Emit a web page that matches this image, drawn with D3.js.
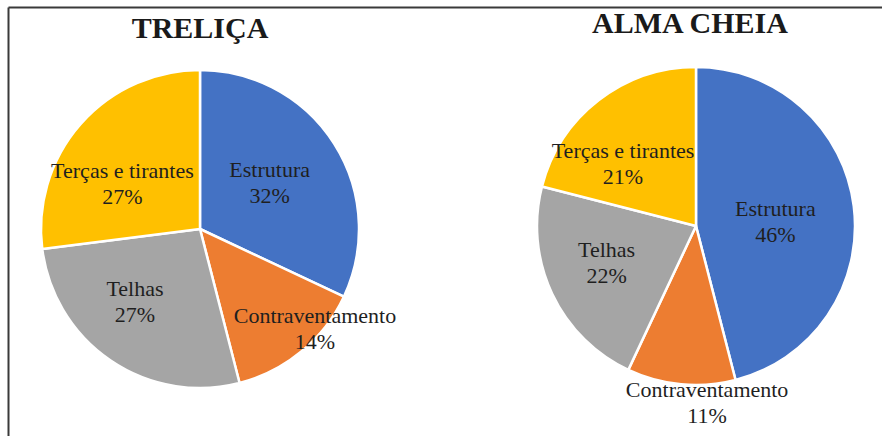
<!DOCTYPE html>
<html>
<head>
<meta charset="utf-8">
<script src="https://cdn.jsdelivr.net/npm/d3@7"></script>
<style>
  html, body { margin: 0; padding: 0; background: #fff; }
  svg { display: block; }
</style>
</head>
<body>
<svg id="chart" width="882" height="436"></svg>
<script>
// ---- data ----
const categories = ["Estrutura", "Contraventamento", "Telhas", "Terças e tirantes"];
const trelicaValues = [32, 14, 27, 27];
const almaCheiaValues = [46, 11, 22, 21];
const chartTitles = ["TRELIÇA", "ALMA CHEIA"];
const colors = ["#4472C4", "#ED7D31", "#A5A5A5", "#FFC000"];

// ---- layout (styling / label placement, not data) ----
const W = 882, H = 436;
const layouts = [
  { values: trelicaValues, title: chartTitles[0], cx: 200, cy: 229, r: 159, titleX: 200, titleY: 38,
    labelFactors: [0.525, 0.958, 0.615, 0.564], labelShiftDeg: [-1, -9.4, 7.5, -11.3] },
  { values: almaCheiaValues, title: chartTitles[1], cx: 696, cy: 226, r: 159, titleX: 690, titleY: 33,
    labelFactors: [0.50, 1.113, 0.608, 0.601], labelShiftDeg: [4.3, -9, 2.9, -12] }
];

const svg = d3.select("#chart");
svg.append("rect").attr("width", W).attr("height", H).attr("fill", "#fff");

// frame (top and left edges)
svg.append("line").attr("x1", 8.5).attr("x2", W).attr("y1", 7.5).attr("y2", 7.5)
  .attr("stroke", "#3a3a3a").attr("stroke-width", 2);
svg.append("line").attr("x1", 8.5).attr("x2", 8.5).attr("y1", 7.5).attr("y2", H)
  .attr("stroke", "#3a3a3a").attr("stroke-width", 2);

const pie = d3.pie().sort(null).value(d => d).startAngle(0).endAngle(2 * Math.PI);
const color = d3.scaleOrdinal().domain(categories).range(colors);

layouts.forEach(L => {
  const g = svg.append("g").attr("transform", `translate(${L.cx},${L.cy})`);
  const arcs = pie(L.values);
  const arc = d3.arc().innerRadius(0).outerRadius(L.r);

  g.selectAll("path.slice").data(arcs).join("path")
    .attr("class", "slice")
    .attr("d", arc)
    .attr("fill", (d, i) => color(categories[i]))
    .attr("stroke", "#fff")
    .attr("stroke-width", 2.5)
    .attr("stroke-linejoin", "round");

  const labels = g.selectAll("text.lbl").data(arcs).join("text")
    .attr("class", "lbl")
    .attr("font-family", "'Liberation Serif', 'Times New Roman', serif")
    .attr("font-size", 22)
    .attr("fill", "#1f1f1f")
    .attr("text-anchor", "middle")
    .attr("transform", (d, i) => {
      const rr = L.r * L.labelFactors[i];
      const a = (d.startAngle + d.endAngle) / 2 + L.labelShiftDeg[i] * Math.PI / 180;
      const x = rr * Math.sin(a), y = -rr * Math.cos(a);
      return `translate(${x},${y})`;
    });
  labels.append("tspan").attr("x", 0).attr("y", -6).text((d, i) => categories[i]);
  labels.append("tspan").attr("x", 0).attr("y", 20)
    .text(d => Math.round(d.data) + "%");

  svg.append("text")
    .attr("x", L.titleX).attr("y", L.titleY)
    .attr("text-anchor", "middle")
    .attr("font-family", "'Liberation Serif', 'Times New Roman', serif")
    .attr("font-weight", "bold")
    .attr("font-size", 30)
    .attr("fill", "#1a1a1a")
    .text(L.title);
});
</script>
</body>
</html>
